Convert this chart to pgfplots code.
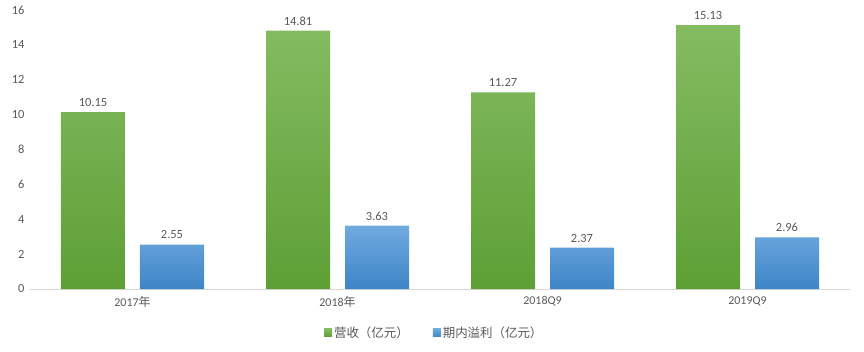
\documentclass[border=0pt]{standalone}
\usepackage{pgfplots}
\pgfplotsset{compat=1.18}
\usepackage{fontspec}
\setmainfont{Carlito}
\newfontfamily\cjk{Noto Sans CJK SC}
\definecolor{txt}{HTML}{595959}
\definecolor{gtop}{HTML}{84BC62}
\definecolor{gbot}{HTML}{5E9F35}
\definecolor{btop}{HTML}{70AADF}
\definecolor{bbot}{HTML}{3E85C7}
\definecolor{axl}{HTML}{D9D9D9}
\begin{document}
\begin{tikzpicture}[x=1bp,y=1bp]
\begin{axis}[
  at={(0,0)}, anchor=south west,
  scale only axis, width=820bp, height=279bp,
  xmin=-0.5, xmax=3.5, ymin=0, ymax=16,
  ybar=15bp, bar width=64bp,
  xtick=data, xticklabels={2017{\cjk 年},2018{\cjk 年},2018Q9,2019Q9},
  ytick={0,2,...,16},
  axis y line=none,
  axis x line*=bottom,
  x axis line style={axl, line width=0.8pt, -},
  major tick length=0pt,
  ticklabel style={font=\fontsize{12}{14}\selectfont, text=txt},
  /pgf/number format/assume math mode=true,
  xticklabel style={yshift=-4bp},
  clip=false,
  nodes near coords,
  nodes near coords style={font=\fontsize{12.5}{14}\selectfont, text=txt, yshift=2bp,
    /pgf/number format/fixed, /pgf/number format/precision=2, /pgf/number format/fixed zerofill},
  legend style={at={(0.493,-63bp)}, anchor=south, draw=none, font=\cjk\fontsize{12.5}{14}\selectfont, text=txt,
    legend columns=2, yshift=9bp, /tikz/every even column/.append style={column sep=22bp}},
  legend image code/.code={\fill[#1] (0bp,-4bp) rectangle (8bp,4bp);},
]
\addplot[draw=none, top color=gtop, bottom color=gbot] coordinates {(0,10.15) (1,14.81) (2,11.27) (3,15.13)};
\addplot[draw=none, top color=btop, bottom color=bbot] coordinates {(0,2.55) (1,3.63) (2,2.37) (3,2.96)};
\legend{营收（亿元）,期内溢利（亿元）}
\end{axis}
\begin{axis}[
  at={(0,0)}, anchor=south west,
  scale only axis, width=820bp, height=279bp,
  xmin=-0.5, xmax=3.5, ymin=0, ymax=16,
  ytick={0,2,...,16}, xtick=\empty,
  axis line style={draw=none},
  major tick length=0pt,
  yticklabel style={font=\fontsize{12.5}{14}\selectfont, text=txt, xshift=-2bp},
  /pgf/number format/assume math mode=true,
]
\addplot[draw=none] coordinates {(0,0)};
\end{axis}
\pgfresetboundingbox
\useasboundingbox (-30bp,-63bp) rectangle (834bp,289bp);
\end{tikzpicture}
\end{document}
